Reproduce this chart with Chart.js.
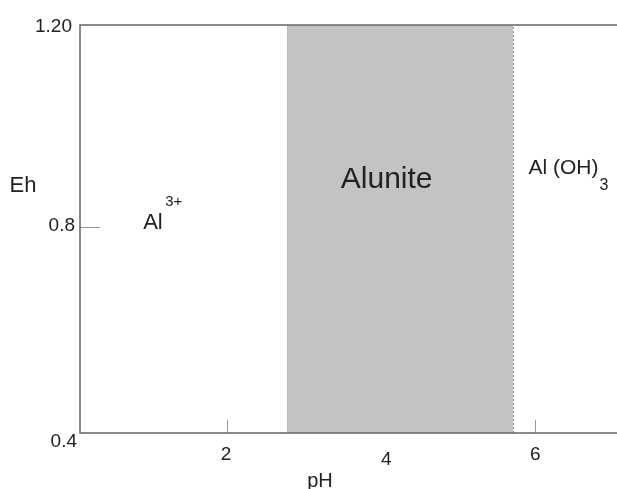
<!DOCTYPE html>
<html>
<head>
<meta charset="utf-8">
<script src="https://cdn.jsdelivr.net/npm/chart.js@4/dist/chart.umd.min.js"></script>
<style>
html, body { margin: 0; padding: 0; background: #fff; }
#wrap { width: 617px; height: 489px; position: relative; }
</style>
</head>
<body>
<div id="wrap"><canvas id="chart"></canvas></div>
<script>
/* -------- DATA -------- */
const phRange = [0.09, 7.06];
const ehRange = [0.4, 1.2];
const xTicks = [2, 4, 6];
const yTicks = [0.4, 0.8, 1.2];
const yTickLabels = ["0.4", "0.8", "1.20"];
const aluniteBounds = [2.79, 5.71];

const FONT = '"Liberation Sans", Arial, sans-serif';
const INK = "#222";
const FRAME = "#666";

function text(ctx, str, x, y, size, align) {
  ctx.font = size + "px " + FONT;
  ctx.fillStyle = INK;
  ctx.textAlign = align || "left";
  ctx.textBaseline = "middle";
  ctx.fillText(str, x, y);
}

/* -------- AXES + LABELS -------- */
const phPlugin = {
  id: "phLabels",
  beforeDatasetsDraw(c) {
    const ctx = c.ctx, xs = c.scales.x, ys = c.scales.y, a = c.chartArea;
    ctx.save();
    ctx.strokeStyle = "#999";
    ctx.lineWidth = 1;
    xTicks.forEach(v => {
      const px = Math.round(xs.getPixelForValue(v)) + 0.5;
      ctx.beginPath();
      ctx.moveTo(px, a.bottom);
      ctx.lineTo(px, a.bottom - 13);
      ctx.stroke();
    });
    yTicks.slice(1, -1).forEach(v => {
      const py = Math.round(ys.getPixelForValue(v)) - 1.5;
      ctx.beginPath();
      ctx.moveTo(a.left, py);
      ctx.lineTo(a.left + 20, py);
      ctx.stroke();
    });
    ctx.restore();
  },
  afterDatasetsDraw(c) {
    const ctx = c.ctx, xs = c.scales.x, ys = c.scales.y, a = c.chartArea;
    ctx.save();

    // frame: top, bottom, left
    ctx.strokeStyle = FRAME;
    ctx.lineWidth = 1.5;
    ctx.beginPath();
    ctx.moveTo(a.right, a.top);
    ctx.lineTo(a.left, a.top);
    ctx.lineTo(a.left, a.bottom);
    ctx.lineTo(a.right, a.bottom);
    ctx.stroke();

    // tick labels
    const xdx = [-1, 5, 0], xdy = [22, 27, 22];
    xTicks.forEach((v, i) => {
      text(ctx, String(v), xs.getPixelForValue(v) + xdx[i], a.bottom + xdy[i], 19, "center");
    });
    const ydx = [-3, -5, -8], ydy = [9, -3, 2];
    yTicks.forEach((v, i) => {
      text(ctx, yTickLabels[i], a.left + ydx[i], ys.getPixelForValue(v) + ydy[i], 19, "right");
    });

    // axis titles
    text(ctx, "pH", 320, a.bottom + 48, 20, "center");
    text(ctx, "Eh", 23, 186, 22, "center");

    // field names
    text(ctx, "Alunite", xs.getPixelForValue(4.07), ys.getPixelForValue(0.896), 30, "center");
    let x0 = xs.getPixelForValue(0.91), y0 = ys.getPixelForValue(0.812);
    text(ctx, "Al", x0, y0, 22);
    text(ctx, "3+", x0 + 22, y0 - 21, 15);
    x0 = xs.getPixelForValue(5.91); y0 = ys.getPixelForValue(0.92);
    ctx.font = "21px " + FONT;
    const w = ctx.measureText("Al (OH)").width;
    text(ctx, "Al (OH)", x0, y0, 21);
    text(ctx, "3", x0 + w + 1, y0 + 18, 16);

    ctx.restore();
  }
};

/* -------- CHART -------- */
const chart = new Chart(document.getElementById("chart"), {
  type: "scatter",
  data: {
    datasets: [
      {
        // alunite field
        data: [{ x: aluniteBounds[0], y: ehRange[1] }, { x: aluniteBounds[1], y: ehRange[1] }],
        showLine: true, fill: "start",
        backgroundColor: "#c3c3c3", borderWidth: 0, pointRadius: 0
      },
      {
        data: [{ x: aluniteBounds[0], y: ehRange[0] }, { x: aluniteBounds[0], y: ehRange[1] }],
        showLine: true, borderColor: "#8c8c8c", borderWidth: 1.2, pointRadius: 0
      },
      {
        data: [{ x: aluniteBounds[1], y: ehRange[0] }, { x: aluniteBounds[1], y: ehRange[1] }],
        showLine: true, borderColor: "#555", borderWidth: 1.2, borderDash: [2, 2], pointRadius: 0
      }
    ]
  },
  options: {
    responsive: true,
    maintainAspectRatio: false,
    animation: false,
    devicePixelRatio: 1,
    layout: { padding: { left: 80, top: 25, right: 0, bottom: 56 } },
    plugins: { legend: { display: false }, tooltip: { enabled: false } },
    scales: {
      x: { type: "linear", min: phRange[0], max: phRange[1], display: false },
      y: { type: "linear", min: ehRange[0], max: ehRange[1], display: false }
    }
  },
  plugins: [phPlugin]
});
</script>
</body>
</html>
